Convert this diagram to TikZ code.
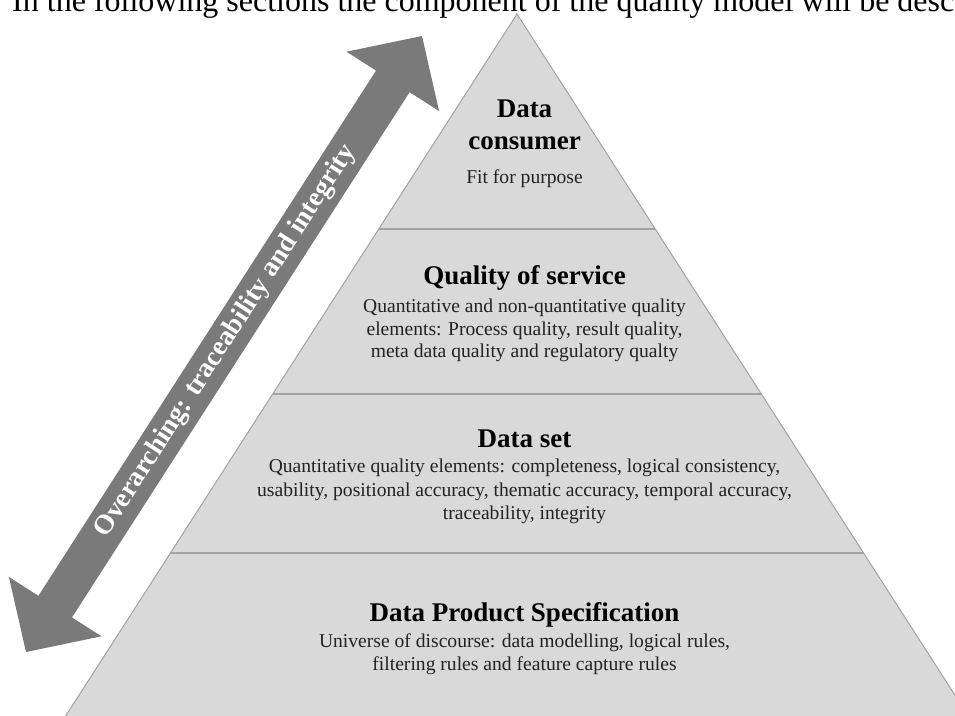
\documentclass[tikz,border=0pt]{standalone}
\usepackage{fontspec}
\setmainfont{Liberation Serif}
\definecolor{pyrfill}{HTML}{D9D9D9}
\definecolor{pyredge}{HTML}{A3A3A3}
\definecolor{arrowgray}{HTML}{7A7A7A}
\definecolor{bodytext}{HTML}{222222}
\begin{document}
\begin{tikzpicture}[x=1pt,y=-1pt,
  titletext/.style={font=\fontsize{27}{32}\selectfont\bfseries, text=black, anchor=base, inner sep=0pt},
  bodytextline/.style={font=\fontsize{19.6}{23}\selectfont, text=bodytext, anchor=base, inner sep=0pt},
  divider/.style={draw=pyredge, line width=1.5pt},
  arrowtext/.style={font=\fontsize{27.5}{32}\selectfont\bfseries, text=white, inner sep=0pt, rotate=57.26}]
\useasboundingbox (0,0) rectangle (955,715);
\clip (0,0) rectangle (955,715);

% page text cut off at top
\node[anchor=base west, inner sep=0pt, font=\fontsize{32}{36}\selectfont] (pagetext) at (12,11.5)
  {In the following sections the component of the quality model will be described};

% pyramid
\coordinate (apex) at (517,14);
\coordinate (bl) at (50.2,740);
\coordinate (br) at (983.8,740);
\filldraw[fill=pyrfill, draw=pyredge, line width=1pt] (apex) -- (br) -- (bl) -- cycle;
\coordinate (d1l) at (378.8,229); \coordinate (d1r) at (655.2,229);
\coordinate (d2l) at (272.7,394); \coordinate (d2r) at (761.3,394);
\coordinate (d3l) at (170.4,553); \coordinate (d3r) at (863.6,553);
\draw[divider] (d1l) -- (d1r);
\draw[divider] (d2l) -- (d2r);
\draw[divider] (d3l) -- (d3r);

% tier 1
\node[titletext] (t1a) at (524.5,117) {Data};
\node[titletext] (t1b) at (524.5,149) {consumer};
\node[bodytextline] (t1c) at (524.5,183) {Fit for purpose};

% tier 2
\node[titletext] (t2a) at (524.5,284) {Quality of service};
\node[bodytextline] (t2b) at (524.5,312) {Quantitative and non-quantitative quality};
\node[bodytextline] (t2c) at (524.5,335) {elements: Process quality, result quality,};
\node[bodytextline] (t2d) at (524.5,357.5) {meta data quality and regulatory qualty};

% tier 3
\node[titletext] (t3a) at (524.5,447) {Data set};
\node[bodytextline] (t3b) at (524.5,472.5) {Quantitative quality elements: completeness, logical consistency,};
\node[bodytextline] (t3c) at (524.5,496) {usability, positional accuracy, thematic accuracy, temporal accuracy,};
\node[bodytextline] (t3d) at (524.5,519.5) {traceability, integrity};

% tier 4
\node[titletext] (t4a) at (524.5,621) {Data Product Specification};
\node[bodytextline] (t4b) at (524.5,647) {Universe of discourse: data modelling, logical rules,};
\node[bodytextline] (t4c) at (524.5,670) {filtering rules and feature capture rules};

% double arrow
\fill[arrowgray] (422,36) -- (439.1,111.1) -- (409.6,92.2) -- (72.0,617.4) -- (101.5,636.3)
  -- (26,652) -- (8.9,576.9) -- (38.4,595.8) -- (376.0,70.6) -- (346.5,51.7) -- cycle;
\node[arrowtext] (arrowlabel) at (225.8,341.3) {Overarching: traceability and integrity};
\end{tikzpicture}
\end{document}
